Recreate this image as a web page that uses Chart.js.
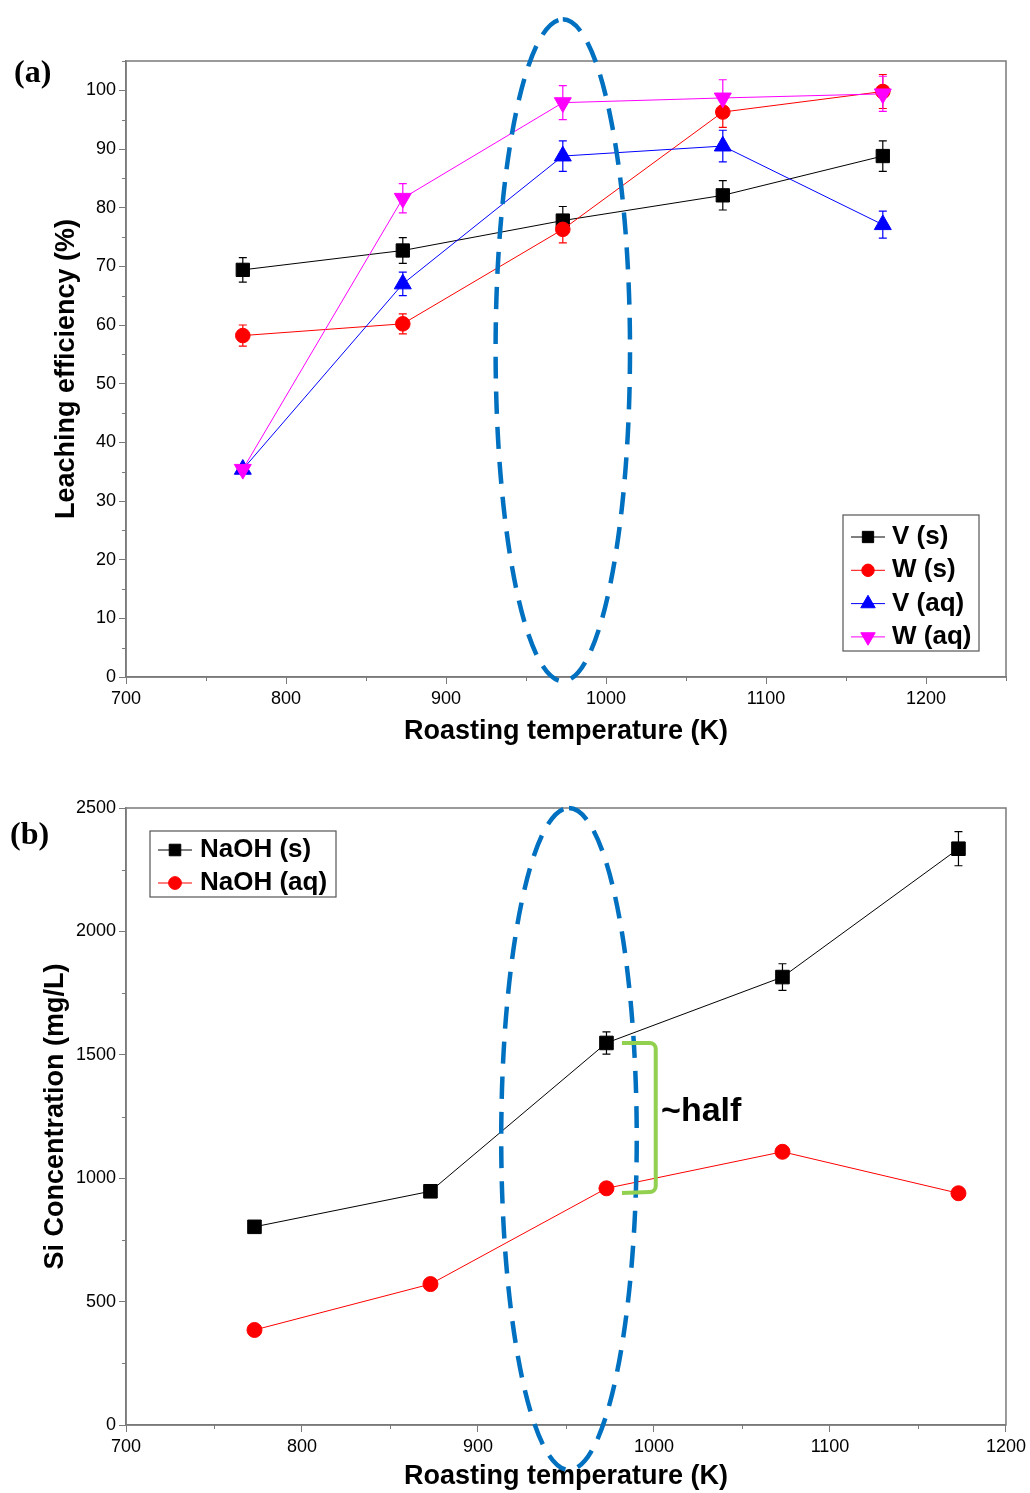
<!DOCTYPE html>
<html>
<head>
<meta charset="utf-8">
<script src="https://cdn.jsdelivr.net/npm/chart.js@4.4.0/dist/chart.umd.min.js"></script>
<style>
html, body { margin: 0; padding: 0; background: #fff; }
#wrapA { position: absolute; left: 0; top: 0; width: 1030px; height: 765px; }
#wrapB { position: absolute; left: 0; top: 765px; width: 1030px; height: 728px; }
</style>
</head>
<body>
<div id="wrapA"><canvas id="chartA"></canvas></div>
<div id="wrapB"><canvas id="chartB"></canvas></div>
<script>
// roasting temperatures (K)
const temps = [773, 873, 973, 1073, 1173];

// (a) leaching efficiency (%)
const vSolid = [69.4, 72.7, 77.8, 82.1, 88.8];
const vSolidErr = [2.1, 2.2, 2.4, 2.5, 2.6];
const wSolid = [58.2, 60.2, 76.3, 96.3, 99.8];
const wSolidErr = [1.8, 1.7, 2.3, 2.6, 2.9];
const vAq = [35.4, 67.0, 88.8, 90.5, 77.1];
const vAqErr = [0.6, 2.0, 2.6, 2.7, 2.3];
const wAq = [35.4, 81.6, 97.9, 98.7, 99.4];
const wAqErr = [0.6, 2.5, 2.9, 3.1, 3.0];

// (b) Si concentration (mg/L)
const siSolid = [803, 947, 1548, 1815, 2335];
const siSolidErr = [15, 20, 45, 54, 69];
const siAq = [385, 571, 959, 1107, 939];
const siAqErr = [10, 12, 15, 22, 15];

const sansFont = '"Liberation Sans", Arial, sans-serif';
const axisColor = '#7a7a7a';

function points(values) {
    return values.map((v, i) => ({ x: temps[i], y: v }));
}

function series(label, values, errors, color, style, radius, rotation, order) {
    return {
        label: label,
        data: points(values),
        errors: errors,
        borderColor: color,
        backgroundColor: color,
        pointBackgroundColor: color,
        pointBorderColor: color,
        borderWidth: 1,
        pointStyle: style,
        pointRadius: radius,
        pointRotation: rotation,
        pointBorderWidth: 1,
        order: order,
        clip: false
    };
}

// error bars under the markers
const errorBars = {
    id: 'errorBars',
    beforeDatasetsDraw(chart) {
        const { ctx, scales: { x, y } } = chart;
        chart.data.datasets.forEach(ds => {
            ctx.save();
            ctx.strokeStyle = ds.borderColor;
            ctx.lineWidth = 1.2;
            ds.data.forEach((pt, i) => {
                const px = x.getPixelForValue(pt.x);
                const top = y.getPixelForValue(pt.y + ds.errors[i]);
                const bot = y.getPixelForValue(pt.y - ds.errors[i]);
                ctx.beginPath();
                ctx.moveTo(px, top); ctx.lineTo(px, bot);
                ctx.moveTo(px - 4, top); ctx.lineTo(px + 4, top);
                ctx.moveTo(px - 4, bot); ctx.lineTo(px + 4, bot);
                ctx.stroke();
            });
            ctx.restore();
        });
    }
};

// box round the plot + small ticks
const frame = {
    id: 'frame',
    afterDraw(chart, args, opts) {
        const { ctx, chartArea: a, scales: { x, y } } = chart;
        ctx.save();
        ctx.strokeStyle = axisColor;
        ctx.lineWidth = 1.5;
        ctx.strokeRect(a.left, a.top, a.right - a.left, a.bottom - a.top);
        ctx.lineWidth = 1;
        ctx.beginPath();
        for (let v = x.min; v <= x.max; v += opts.minorX) {
            if ((v - x.min) % opts.majorX === 0) continue;
            const px = Math.round(x.getPixelForValue(v)) + 0.5;
            ctx.moveTo(px, a.bottom); ctx.lineTo(px, a.bottom + 4);
        }
        for (let v = y.min; v <= y.max; v += opts.minorY) {
            if (v % opts.majorY === 0) continue;
            const py = Math.round(y.getPixelForValue(v)) + 0.5;
            ctx.moveTo(a.left, py); ctx.lineTo(a.left - 4, py);
        }
        ctx.stroke();
        ctx.restore();
    }
};

// legend in a box inside the plot
const boxLegend = {
    id: 'boxLegend',
    afterDraw(chart, args, opts) {
        const { ctx } = chart;
        ctx.save();
        ctx.fillStyle = '#fff';
        ctx.fillRect(opts.left, opts.top, opts.width, opts.height);
        ctx.strokeStyle = '#555';
        ctx.lineWidth = 1.2;
        ctx.strokeRect(opts.left, opts.top, opts.width, opts.height);
        ctx.font = 'bold 26px ' + sansFont;
        ctx.textBaseline = 'middle';
        chart.data.datasets.forEach((ds, i) => {
            const cy = opts.top + opts.firstRow + i * opts.rowGap;
            const lx = opts.left + 8;
            ctx.strokeStyle = ds.borderColor;
            ctx.lineWidth = 1;
            ctx.beginPath();
            ctx.moveTo(lx, cy); ctx.lineTo(lx + 34, cy);
            ctx.stroke();
            ctx.fillStyle = ds.pointBackgroundColor;
            Chart.helpers.drawPoint(ctx, {
                pointStyle: ds.pointStyle,
                rotation: ds.pointRotation || 0,
                radius: ds.pointRadius * 0.85,
                borderWidth: 1
            }, lx + 17, cy);
            ctx.fillStyle = '#000';
            ctx.fillText(ds.label, lx + opts.textGap, cy);
        });
        ctx.restore();
    }
};

// dashed ellipse, bracket, panel letter
const notes = {
    id: 'notes',
    afterDraw(chart, args, opts) {
        const { ctx, scales: { x, y } } = chart;
        ctx.save();
        const e = opts.ellipse;
        const cx = x.getPixelForValue(e.cx);
        const cy = y.getPixelForValue(e.cy);
        const rx = x.getPixelForValue(e.cx + e.rx) - cx;
        const ry = cy - y.getPixelForValue(e.cy + e.ry);
        ctx.strokeStyle = '#0070C0';
        ctx.lineWidth = 4.5;
        ctx.setLineDash([22, 13]);
        ctx.beginPath();
        ctx.ellipse(cx, cy, rx, ry, 0, -Math.PI / 2, Math.PI * 1.5);
        ctx.stroke();
        ctx.setLineDash([]);

        if (opts.bracket) {
            const b = opts.bracket;
            const x0 = x.getPixelForValue(b.x0), x1 = x.getPixelForValue(b.x1);
            const y0 = y.getPixelForValue(b.y0), y1 = y.getPixelForValue(b.y1);
            ctx.strokeStyle = '#92D050';
            ctx.lineWidth = 4;
            ctx.beginPath();
            ctx.moveTo(x0, y0);
            ctx.arcTo(x1, y0, x1, y1, 6);
            ctx.arcTo(x1, y1, x0, y1, 6);
            ctx.lineTo(x0, y1 + 1);
            ctx.stroke();
            ctx.fillStyle = '#000';
            ctx.font = 'bold 34px ' + sansFont;
            ctx.textBaseline = 'middle';
            ctx.fillText(b.text, x.getPixelForValue(b.tx), y.getPixelForValue(b.ty));
        }

        ctx.fillStyle = '#000';
        ctx.font = 'bold 32px "Liberation Serif", "Times New Roman", serif';
        ctx.textBaseline = 'middle';
        ctx.fillText(opts.letter, opts.letterX, opts.letterY);
        ctx.restore();
    }
};

function makeScales(cfg) {
    return {
        x: {
            type: 'linear', min: cfg.xMin, max: cfg.xMax,
            ticks: { stepSize: 100, includeBounds: false, color: '#000', padding: 4,
                     font: { family: sansFont, size: 18 }, callback: v => String(v) },
            grid: { drawOnChartArea: false, drawTicks: true, tickLength: 7, color: axisColor },
            border: { color: axisColor, width: 1.5 },
            title: { display: true, text: 'Roasting temperature (K)', color: '#000',
                     font: { family: sansFont, size: 27, weight: 'bold' },
                     padding: { top: 0, bottom: cfg.xTitlePad } },
            afterFit(scale) { scale.height = cfg.xHeight; }
        },
        y: {
            min: 0, max: cfg.yMax,
            ticks: { stepSize: cfg.yStep, includeBounds: false, color: '#000', padding: 3,
                     font: { family: sansFont, size: 18 }, callback: v => String(v) },
            grid: { drawOnChartArea: false, drawTicks: true, tickLength: 7, color: axisColor },
            border: { color: axisColor, width: 1.5 },
            title: { display: true, text: cfg.yTitle, color: '#000',
                     font: { family: sansFont, size: 27, weight: 'bold' },
                     padding: { top: cfg.yTitlePad, bottom: 0 } },
            afterFit(scale) { scale.width = 126; }
        }
    };
}

new Chart(document.getElementById('chartA'), {
    type: 'line',
    data: {
        datasets: [
            series('V (s)', vSolid, vSolidErr, '#000000', 'rect', 9.4, 0, 4),
            series('W (s)', wSolid, wSolidErr, '#FF0000', 'circle', 7.3, 0, 3),
            series('V (aq)', vAq, vAqErr, '#0000FF', 'triangle', 9.8, 0, 2),
            series('W (aq)', wAq, wAqErr, '#FF00FF', 'triangle', 9.8, 180, 1)
        ]
    },
    options: {
        responsive: true,
        maintainAspectRatio: false,
        animation: false,
        layout: { padding: { left: 0, right: 24, top: 61, bottom: 0 } },
        scales: makeScales({ xMin: 700, xMax: 1250, yMax: 105, yStep: 10, xHeight: 88,
                             xTitlePad: 17, yTitlePad: 50, yTitle: 'Leaching efficiency (%)' }),
        plugins: {
            legend: { display: false },
            tooltip: { enabled: false },
            frame: { minorX: 50, majorX: 100, minorY: 5, majorY: 10 },
            boxLegend: { left: 843, top: 515, width: 136, height: 136, firstRow: 22, rowGap: 33.3, textGap: 41 },
            notes: { ellipse: { cx: 973, cy: 55.7, rx: 42, ry: 56.4 },
                     letter: '(a)', letterX: 14, letterY: 74 }
        }
    },
    plugins: [errorBars, frame, boxLegend, notes]
});

new Chart(document.getElementById('chartB'), {
    type: 'line',
    data: {
        datasets: [
            series('NaOH (s)', siSolid, siSolidErr, '#000000', 'rect', 9.6, 0, 2),
            series('NaOH (aq)', siAq, siAqErr, '#FF0000', 'circle', 7.5, 0, 1)
        ]
    },
    options: {
        responsive: true,
        maintainAspectRatio: false,
        animation: false,
        layout: { padding: { left: 0, right: 24, top: 43, bottom: 0 } },
        scales: makeScales({ xMin: 700, xMax: 1200, yMax: 2500, yStep: 500, xHeight: 68,
                             xTitlePad: 0, yTitlePad: 39, yTitle: 'Si Concentration (mg/L)' }),
        plugins: {
            legend: { display: false },
            tooltip: { enabled: false },
            frame: { minorX: 50, majorX: 100, minorY: 250, majorY: 500 },
            boxLegend: { left: 150, top: 66, width: 186, height: 66, firstRow: 19, rowGap: 33, textGap: 42 },
            notes: { ellipse: { cx: 951.7, cy: 1159, rx: 38.5, ry: 1341 },
                     bracket: { x0: 981.8, x1: 1001, y0: 1548, y1: 944, text: '~half', tx: 1004, ty: 1268 },
                     letter: '(b)', letterX: 10, letterY: 71 }
        }
    },
    plugins: [errorBars, frame, boxLegend, notes]
});
</script>
</body>
</html>
